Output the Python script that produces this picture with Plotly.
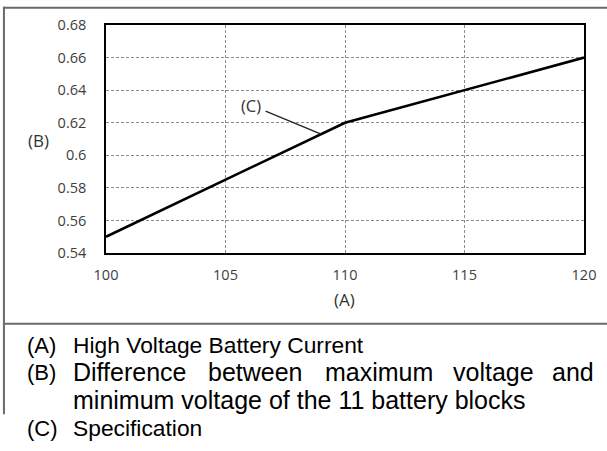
import numpy as np
import plotly.graph_objects as go

# ---- data ----
current_a = [100, 110, 120]
voltage_diff = [0.55, 0.62, 0.66]
x_ticks = [100, 105, 110, 115, 120]
y_ticks = [0.54, 0.56, 0.58, 0.60, 0.62, 0.64, 0.66, 0.68]
y_tick_labels = ["0.54", "0.56", "0.58", "0.6", "0.62", "0.64", "0.66", "0.68"]
spec_x = 109

W, H = 607, 451
L, R, T, B = 106, 583.7, 24.7, 253.3  # plot area in pixels


def px(xp):
    return (xp - L) / (R - L)


def py(yp):
    return (B - yp) / (B - T)


fig = go.Figure()
fig.add_trace(go.Scatter(x=current_a, y=voltage_diff, mode="lines",
                         line=dict(color="black", width=2.6),
                         hoverinfo="skip", showlegend=False))

tick_font = dict(family="Open Sans", size=14.5, color="#404040")
grid_col = "#8c8c8c"

fig.update_xaxes(range=[100, 120], tickvals=x_ticks, showgrid=True,
                 gridcolor=grid_col, griddash="3px,2px", gridwidth=1,
                 showline=True, linecolor="black", linewidth=1.6, mirror=True,
                 zeroline=False, tickfont=tick_font, ticks="",
                 ticklabelstandoff=8)
fig.update_yaxes(range=[0.54, 0.68], tickvals=y_ticks, ticktext=y_tick_labels,
                 showgrid=True, gridcolor=grid_col, griddash="3px,2px",
                 gridwidth=1, showline=True, linecolor="black", linewidth=1.6,
                 mirror=True, zeroline=False, tickfont=tick_font, ticks="",
                 ticklabelstandoff=15)

ann = []
axis_font = dict(family="Open Sans", size=17, color="#333333")
ann.append(dict(text="(A)", x=px(344), y=py(300), xref="paper", yref="paper",
                showarrow=False, font=axis_font, xanchor="center", yanchor="middle"))
ann.append(dict(text="(B)", x=px(39), y=py(141), xref="paper", yref="paper",
                showarrow=False, font=axis_font, xanchor="center", yanchor="middle"))
# (C) pointer to the curve
spec_y = float(np.interp(spec_x, current_a, voltage_diff))
ann.append(dict(text="(C)", x=spec_x, y=spec_y, xref="x", yref="y",
                showarrow=True, arrowhead=0, arrowwidth=1.3, arrowcolor="#222",
                ax=-70, ay=-29, borderpad=4, standoff=0,
                font=dict(family="Open Sans", size=16.5, color="#333333")))

# legend text block
lab_font = dict(family="Liberation Sans", size=22, color="black")
txt_font = dict(family="Liberation Sans", size=22.8, color="black")
big_font = dict(family="Liberation Sans", size=25, color="black")


def add_text(s, xp, base, font):
    ann.append(dict(text=s, x=px(xp), y=py(base), xref="paper", yref="paper",
                    showarrow=False, font=font, xanchor="left", yanchor="bottom",
                    xshift=0, yshift=-font["size"] * 0.21))

add_text("(A)", 25, 356, lab_font)
add_text("High Voltage Battery Current", 71, 356, txt_font)
add_text("(B)", 25, 383.5, lab_font)
for word, xp in [("Difference", 71), ("between", 206), ("maximum", 323),
                 ("voltage", 451), ("and", 550)]:
    add_text(word, xp, 383.5, big_font)
add_text("minimum voltage of the 11 battery blocks", 71, 411, big_font)
add_text("(C)", 25, 439, lab_font)
add_text("Specification", 71, 439, txt_font)

frame = dict(color="#6a6a6a", width=2)
shapes = [
    dict(type="line", xref="paper", yref="paper", x0=px(3), x1=px(610),
         y0=py(7.5), y1=py(7.5), line=frame),
    dict(type="line", xref="paper", yref="paper", x0=px(4), x1=px(4),
         y0=py(6.5), y1=py(415), line=frame),
    dict(type="line", xref="paper", yref="paper", x0=px(3), x1=px(610),
         y0=py(324.3), y1=py(324.3), line=frame),
]

fig.update_layout(width=W, height=H, margin=dict(l=L, r=W - R, t=T, b=H - B),
                  paper_bgcolor="white", plot_bgcolor="white",
                  annotations=ann, shapes=shapes, showlegend=False)

fig.write_html("out.html", config={"displayModeBar": False},
               post_script="document.body.style.margin='0';document.body.style.overflow='hidden';")
